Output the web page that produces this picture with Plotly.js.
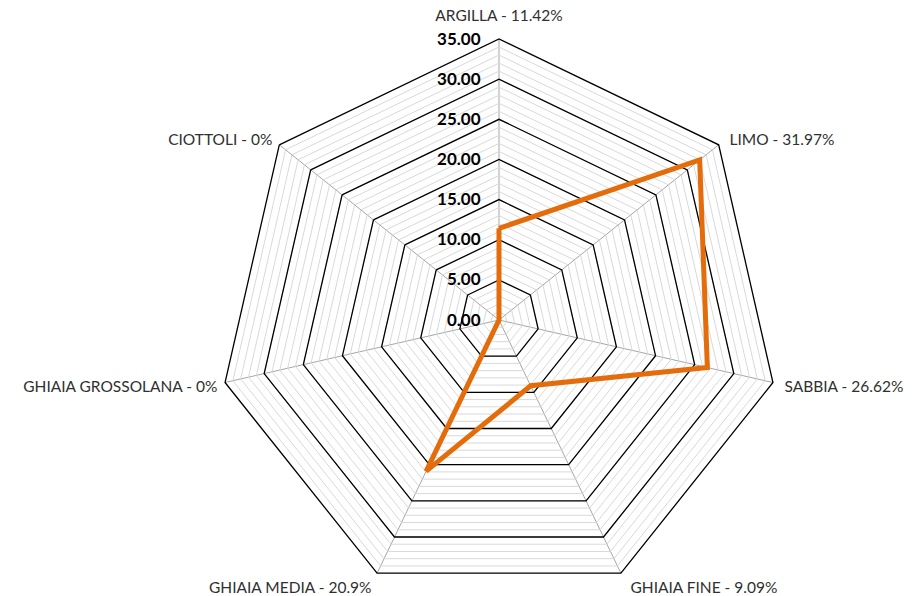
<!DOCTYPE html>
<html>
<head>
<meta charset="utf-8">
<script src="https://cdn.plot.ly/plotly-3.0.1.min.js"></script>
<style>
html,body{margin:0;padding:0;overflow:hidden;background:#fff;}
#chart{width:915px;height:640px;}
</style>
</head>
<body>
<div id="chart"></div>
<script>
const categories = ["ARGILLA", "LIMO", "SABBIA", "GHIAIA FINE", "GHIAIA MEDIA", "GHIAIA GROSSOLANA", "CIOTTOLI"];
const values = [11.42, 31.97, 26.62, 9.09, 20.9, 0, 0];
const radialRange = [0, 35];

const labels = categories.map((c, i) => c + " - " + String(values[i]) + "%");
// small padding so labels sit a little off the outer vertices, as in the reference
const NB = "\u00a0";
const tickText = labels.map((t, i) => {
  if (i === 0) return t;
  if (i <= 3) return NB + NB + t;
  return t + NB;
});
// the top label is drawn by an overlay subplot with a longer (invisible) tick
const mainTickText = tickText.map((t, i) => (i === 0 ? "" : t));
const thetaClosed = categories.concat([categories[0]]);
const rClosed = values.concat([values[0]]);

const W = 915, H = 640;
const cx = 499, cy = 320, R = 281;
const dom = {
  x: [(cx - R) / W, (cx + R) / W],
  y: [(H - cy - R) / H, (H - cy + R) / H]
};

const FONT = "Lato, 'Open Sans', sans-serif";
const LABEL_COLOR = "#303030";

const traces = [
  {
    type: "scatterpolar",
    subplot: "polar",
    r: categories.map(() => 0),
    theta: categories,
    mode: "lines",
    line: {color: "rgba(0,0,0,0)"},
    hoverinfo: "skip",
    showlegend: false
  },
  {
    type: "scatterpolar",
    subplot: "polar3",
    r: categories.map(() => 0),
    theta: categories,
    mode: "lines",
    line: {color: "rgba(0,0,0,0)"},
    hoverinfo: "skip",
    showlegend: false
  },
  {
    type: "scatterpolar",
    subplot: "polar2",
    r: rClosed,
    theta: thetaClosed,
    mode: "lines",
    line: {color: "#E46C0A", width: 5},
    showlegend: false
  }
];

const angCommon = {
  type: "category",
  categoryarray: categories,
  direction: "clockwise",
  rotation: 90
};

const layout = {
  width: W,
  height: H,
  margin: {l: 0, r: 0, t: 0, b: 0},
  paper_bgcolor: "#fff",
  showlegend: false,
  font: {family: FONT, color: LABEL_COLOR, size: 16},
  polar: {
    domain: dom,
    gridshape: "linear",
    bgcolor: "#fff",
    radialaxis: {
      range: radialRange,
      dtick: 1,
      showgrid: true,
      gridcolor: "#d9d9d9",
      gridwidth: 1,
      showticklabels: false,
      ticks: "",
      showline: false
    },
    angularaxis: Object.assign({}, angCommon, {
      showgrid: true,
      gridcolor: "#a6a6a6",
      gridwidth: 1,
      showticklabels: false,
      ticks: "",
      showline: false
    })
  },
  polar3: {
    domain: dom,
    gridshape: "linear",
    bgcolor: "rgba(0,0,0,0)",
    radialaxis: {
      range: radialRange,
      visible: false
    },
    angularaxis: Object.assign({}, angCommon, {
      showgrid: false,
      showline: false,
      ticks: "outside",
      ticklen: 11,
      tickcolor: "rgba(0,0,0,0)",
      tickmode: "array",
      tickvals: categories,
      ticktext: tickText.map((t, i) => (i === 0 ? t : "")),
      tickfont: {family: FONT, size: 15.5, color: LABEL_COLOR}
    })
  },
  polar2: {
    domain: dom,
    gridshape: "linear",
    bgcolor: "rgba(0,0,0,0)",
    radialaxis: {
      range: radialRange,
      dtick: 5,
      tickformat: ".2f",
      showgrid: true,
      gridcolor: "#000",
      gridwidth: 1.3,
      angle: 90,
      side: "counterclockwise",
      tickangle: 90,
      ticks: "outside",
      ticklen: 12,
      tickcolor: "rgba(0,0,0,0)",
      showline: false,
      tickfont: {family: FONT, size: 17, color: "#000", weight: "bold"}
    },
    angularaxis: Object.assign({}, angCommon, {
      showgrid: false,
      showline: true,
      linecolor: "#000",
      linewidth: 1.3,
      ticks: "",
      tickmode: "array",
      tickvals: categories,
      ticktext: mainTickText,
      tickfont: {family: FONT, size: 15.5, color: LABEL_COLOR}
    })
  }
};

Plotly.newPlot("chart", traces, layout, {displayModeBar: false, staticPlot: true});
</script>
</body>
</html>
